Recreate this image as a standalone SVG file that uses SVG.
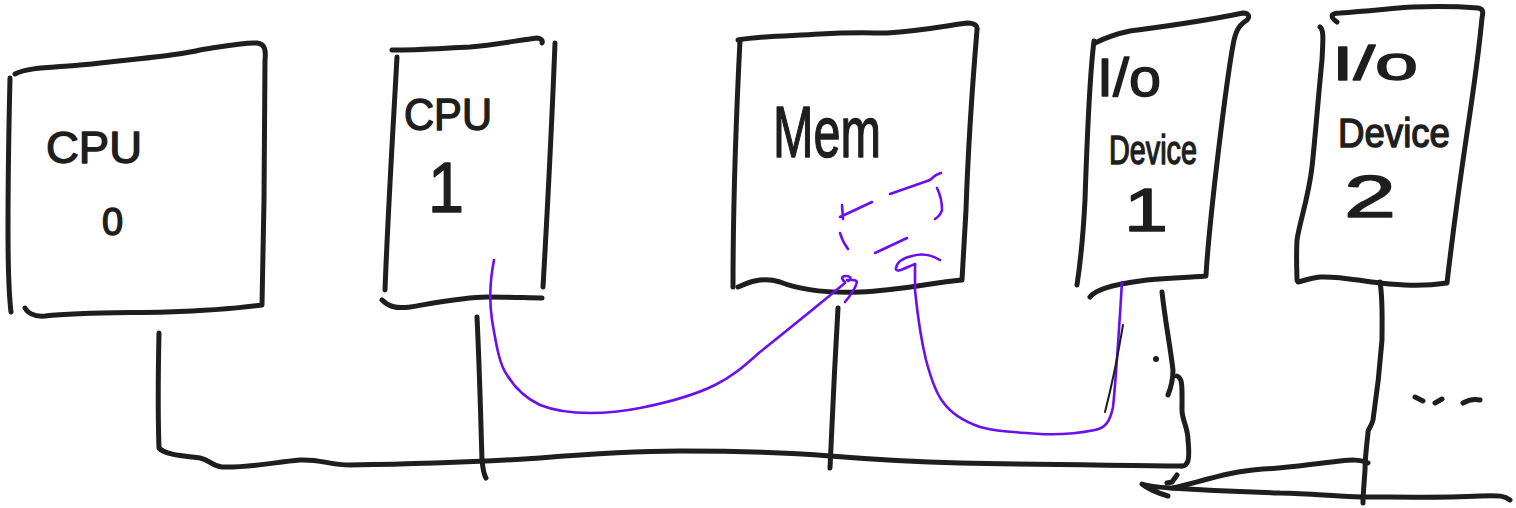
<svg xmlns="http://www.w3.org/2000/svg" width="1516" height="508" viewBox="0 0 1516 508">
<style>
.ink{fill:none;stroke:#1e1e1e;stroke-width:5;stroke-linecap:round;stroke-linejoin:round}
.thin{fill:none;stroke:#1e1e1e;stroke-width:2;stroke-linecap:round}
.pur{fill:none;stroke:#6a0ff0;stroke-width:2.6;stroke-linecap:round;stroke-linejoin:round}
.t{font-family:"Liberation Sans","DejaVu Sans",sans-serif;fill:#1e1e1e;stroke:#1e1e1e;stroke-width:1.4;stroke-linejoin:round}
</style>
<rect width="1516" height="508" fill="#ffffff"/>

<g id="cpu0">
<path class="ink" d="M15,74 C30,66 60,68 100,63 C140,58 170,57 200,50 C225,46 245,42 257,43 C265,44 266,50 265,60 L264,200 L262,305 C240,308 200,311 167,312 C120,313 80,312 45,316 C33,317 27,312 25,308"/>
<path class="ink" d="M10,78 C9,120 8,180 8,230 C8,270 9,295 11,312"/>
<text class="t" x="46" y="163" font-size="44" textLength="96" lengthAdjust="spacingAndGlyphs">CPU</text>
<text class="t" x="102" y="235" font-size="38">0</text>
</g>

<g id="cpu1">
<path class="ink" d="M392,50 C420,50 445,48 470,47 C495,45 520,40 537,38 C541,38 543,41 542,43"/>
<path class="ink" d="M555,43 C552,120 548,200 543,287"/>
<path class="ink" d="M397,57 C393,130 388,210 385,290"/>
<path class="ink" d="M382,300 C388,306 395,309 410,307 C440,302 465,297 487,297 C510,297 530,298 542,298"/>
<text class="t" x="404" y="130" font-size="44" textLength="88" lengthAdjust="spacingAndGlyphs">CPU</text>
<text class="t" x="428" y="212" font-size="70" textLength="36" lengthAdjust="spacingAndGlyphs">1</text>
</g>

<g id="mem">
<path class="ink" d="M738,40 C760,36 787,36 820,34 C853,32 870,33 887,33 C920,31 945,26 967,23 C975,23 978,26 977,30 C972,90 968,150 966,210 L962,280 C930,283 900,290 860,292 C830,293 800,290 780,282 C760,276 745,284 738,287"/>
<path class="ink" d="M740,40 C736,120 733,200 733,287"/>
<text class="t" x="773" y="157" font-size="72" textLength="108" lengthAdjust="spacingAndGlyphs">Mem</text>
</g>

<g id="io1">
<path class="ink" d="M1095,43 C1105,38 1115,34 1130,31 C1160,27 1200,22 1243,13 C1249,13 1250,17 1247,20 C1240,25 1237,28 1234,40 C1228,70 1222,120 1215,180 C1210,225 1207,255 1206,276 C1185,278 1160,278 1140,281 C1110,285 1095,290 1090,297"/>
<path class="ink" d="M1094,41 C1089,80 1087,140 1085,200 C1083,240 1080,265 1077,285"/>
<text class="t" x="1097" y="96" font-size="54" textLength="64" lengthAdjust="spacingAndGlyphs">I/o</text>
<text class="t" x="1109" y="164" font-size="40" textLength="88" lengthAdjust="spacingAndGlyphs">Device</text>
<text class="t" x="1124" y="231" font-size="62" textLength="44" lengthAdjust="spacingAndGlyphs">1</text>
</g>

<g id="io2">
<path class="ink" d="M1337,22 C1330,17 1330,13 1340,13 C1370,11 1395,8 1413,7 C1440,6 1465,7 1478,8 C1484,9 1483,13 1482,18 C1478,60 1472,100 1467,133 C1460,180 1452,240 1447,283 C1420,287 1400,285 1380,283 C1360,281 1340,276 1320,277 C1310,278 1303,281 1298,282"/>
<path class="ink" d="M1320,27 C1324,30 1323,40 1322,60 C1318,100 1315,140 1312,167 C1308,200 1300,220 1297,240 C1296,260 1297,272 1297,280"/>
<text class="t" x="1332" y="80" font-size="48" textLength="86" lengthAdjust="spacingAndGlyphs">I/o</text>
<text class="t" x="1338" y="147" font-size="40" textLength="112" lengthAdjust="spacingAndGlyphs">Device</text>
<text class="t" x="1344" y="217" font-size="60" textLength="52" lengthAdjust="spacingAndGlyphs">2</text>
</g>

<g id="connectors">
<path class="ink" d="M159,333 C158,380 158,420 159,448 C165,455 185,456 200,458 C210,460 212,466 222,467 C250,468 275,462 300,460 C320,459 330,465 350,465 C420,464 480,462 540,458 C600,453 640,451 680,451 C730,451 780,452 830,456 C880,460 920,462 960,463 C1040,465 1120,465 1182,466"/>
<path class="ink" d="M477,317 C480,380 481,430 482,460 C483,470 484,475 486,478"/>
<path class="ink" d="M838,308 C835,360 832,420 830,468"/>
<path class="ink" d="M1162,292 C1165,320 1170,345 1173,370 C1173,380 1170,390 1168,395"/>
<path class="ink" d="M1177,376 C1183,378 1182,388 1182,410 C1182,420 1188,428 1188,440 C1189,450 1189,460 1187,463 C1185,466 1184,466 1182,466"/>
<circle cx="1156" cy="359" r="3" fill="#1e1e1e"/>
<path class="ink" d="M1177,475 L1172,482 L1167,483"/>
<path class="ink" d="M1510,500 C1505,496 1500,495 1480,496 C1440,498 1400,497 1363,497 C1330,496 1300,493 1280,493 C1240,492 1200,490 1170,488 C1155,487 1145,485 1142,484 C1148,489 1158,493 1168,496"/>
<path class="ink" d="M1368,463 C1360,459 1350,460 1340,461 C1310,464 1290,468 1263,469 C1230,471 1200,482 1173,488"/>
<path class="ink" d="M1380,282 C1383,300 1382,320 1382,340 C1379,380 1376,400 1373,420 C1371,428 1367,430 1368,433 C1366,450 1365,460 1365,470 C1364,485 1363,495 1363,503"/>
<path class="ink" d="M1415,397 L1423,401 M1435,403 L1442,399 M1463,403 C1468,400 1475,399 1480,400"/>
<path class="pur" d="M494,260 C490,280 489,300 492,320 C497,350 500,365 507,375 C515,388 525,398 540,405 C555,411 570,413 590,413 C610,413 625,411 640,408 C670,402 695,395 715,385 C735,375 745,365 760,352 C785,332 810,312 845,283"/>
<path class="pur" d="M845,282 C841,279 841,276 846,276 C851,276 852,279 848,281 M847,280 C851,280 856,279 857,282 C855,290 850,296 845,302"/>
<path class="pur" d="M1122,282 C1119,330 1116,380 1113,407 C1110,422 1105,428 1095,430 C1080,433 1060,435 1040,434 C1010,432 995,431 980,427 C960,420 950,412 943,402 C935,392 930,375 926,360 C920,335 917,310 915,290 L915,264"/>
<path class="pur" d="M915,264 C905,268 895,274 896,268 C897,262 903,258 912,256 C922,253 930,254 940,260"/>
<path class="thin" d="M1123,325 C1118,355 1112,385 1105,412"/>
<path class="pur" d="M840,217 L872,202 M842,205 L843,219 M890,194 L930,180 C934,176 937,174 941,173 M937,188 C941,196 942,205 942,210 C941,214 938,217 935,219 M840,233 C842,240 845,245 848,249 M875,253 L907,238"/>
</g>
</svg>
